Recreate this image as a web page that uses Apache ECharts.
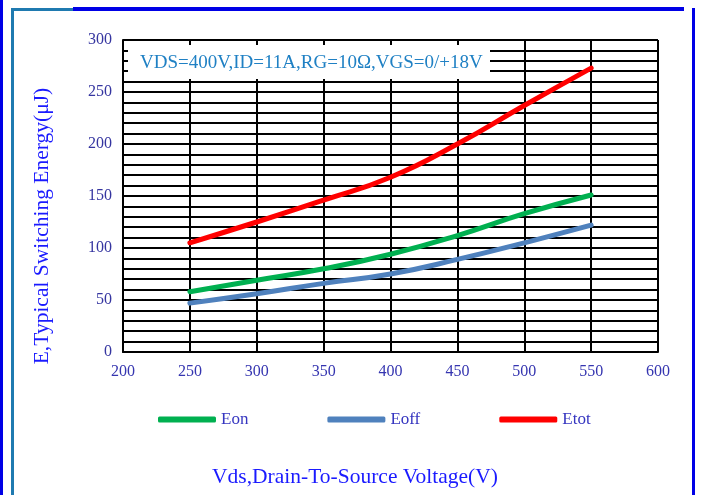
<!DOCTYPE html>
<html>
<head>
<meta charset="utf-8">
<script src="https://cdn.jsdelivr.net/npm/echarts@6/dist/echarts.min.js"></script>
<style>
html,body{margin:0;padding:0;background:#fff;}
#chart{width:701px;height:495px;}
</style>
</head>
<body>
<div id="chart"></div>
<script>
var voltages = [250, 300, 350, 400, 450, 500, 550];
var eon = [58, 69, 80, 94, 112, 133, 151];
var eoff = [47, 56, 66, 75, 89, 105, 122];
var etot = [105, 125, 146, 168, 200, 237, 273];
var seriesNames = ['Eon', 'Eoff', 'Etot'];
var annotation = 'VDS=400V,ID=11A,RG=10\u03A9,VGS=0/+18V';
var yTitle = 'E,Typical Switching Energy(\u03BCJ)';
var xTitle = 'Vds,Drain-To-Source Voltage(V)';

function pairs(ys) { return voltages.map(function (v, i) { return [v, ys[i]]; }); }

var serif = 'Liberation Serif, Times New Roman, serif';
var chart = echarts.init(document.getElementById('chart'));
var colors = ['#00b050', '#4f81bd', '#ff0000'];
var datasets = [eon, eoff, etot];

chart.setOption({
  backgroundColor: '#ffffff',
  animation: false,
  grid: { left: 123, right: 43, top: 40, bottom: 143 },
  legend: {
    left: 153, top: 406,
    icon: 'roundRect',
    itemWidth: 58, itemHeight: 6, itemGap: 79,
    textStyle: { fontFamily: serif, fontSize: 17, color: '#3535c0' },
    data: seriesNames
  },
  xAxis: {
    type: 'value', min: 200, max: 600, interval: 50,
    axisLine: { show: true, lineStyle: { color: '#000', width: 2 } },
    axisTick: { show: false },
    axisLabel: { margin: 12, fontFamily: serif, fontSize: 16, color: '#3535b0' },
    splitLine: { show: true, lineStyle: { color: '#000', width: 2 } }
  },
  yAxis: {
    type: 'value', min: 0, max: 300, interval: 10,
    axisLine: { show: true, lineStyle: { color: '#000', width: 2 } },
    axisTick: { show: false },
    axisLabel: {
      margin: 11, fontFamily: serif, fontSize: 16, color: '#3535a0',
      formatter: function (v) { return v % 50 === 0 ? String(v) : ''; }
    },
    splitLine: { show: true, lineStyle: { color: '#000', width: 2 } }
  },
  series: datasets.map(function (d, i) {
    return {
      name: seriesNames[i], type: 'line', smooth: true, symbol: 'none',
      z: 5,
      lineStyle: { width: 5, color: colors[i], cap: 'round' },
      itemStyle: { color: colors[i] },
      data: pairs(d)
    };
  }),
  graphic: [
    { type: 'rect', z: 1, shape: { x: 0, y: 0, width: 3, height: 495 }, style: { fill: '#0000e6' } },
    { type: 'rect', z: 1, shape: { x: 11, y: 8, width: 3, height: 487 }, style: { fill: '#1f7ab0' } },
    { type: 'rect', z: 1, shape: { x: 11, y: 8, width: 64, height: 3 }, style: { fill: '#1f7ab0' } },
    { type: 'rect', z: 1, shape: { x: 73, y: 7, width: 611, height: 4 }, style: { fill: '#0000e6' } },
    { type: 'rect', z: 1, shape: { x: 692, y: 8, width: 3, height: 487 }, style: { fill: '#0000e6' } },
    { type: 'rect', z: 3, shape: { x: 128, y: 45, width: 362, height: 34 }, style: { fill: '#ffffff' } },
    { type: 'text', z: 4, x: 140, y: 63,
      style: { text: annotation, fontFamily: serif, fontSize: 19, fill: '#1f80c4', verticalAlign: 'middle', align: 'left' } },
    { type: 'text', z: 4, x: 42, y: 226, rotation: Math.PI / 2,
      style: { text: yTitle, fontFamily: serif, fontSize: 21.5, fill: '#1a1aff', verticalAlign: 'middle', align: 'center' } },
    { type: 'text', z: 4, x: 355, y: 477,
      style: { text: xTitle, fontFamily: serif, fontSize: 21.5, fill: '#1a1aff', verticalAlign: 'middle', align: 'center' } }
  ]
});
</script>
</body>
</html>
